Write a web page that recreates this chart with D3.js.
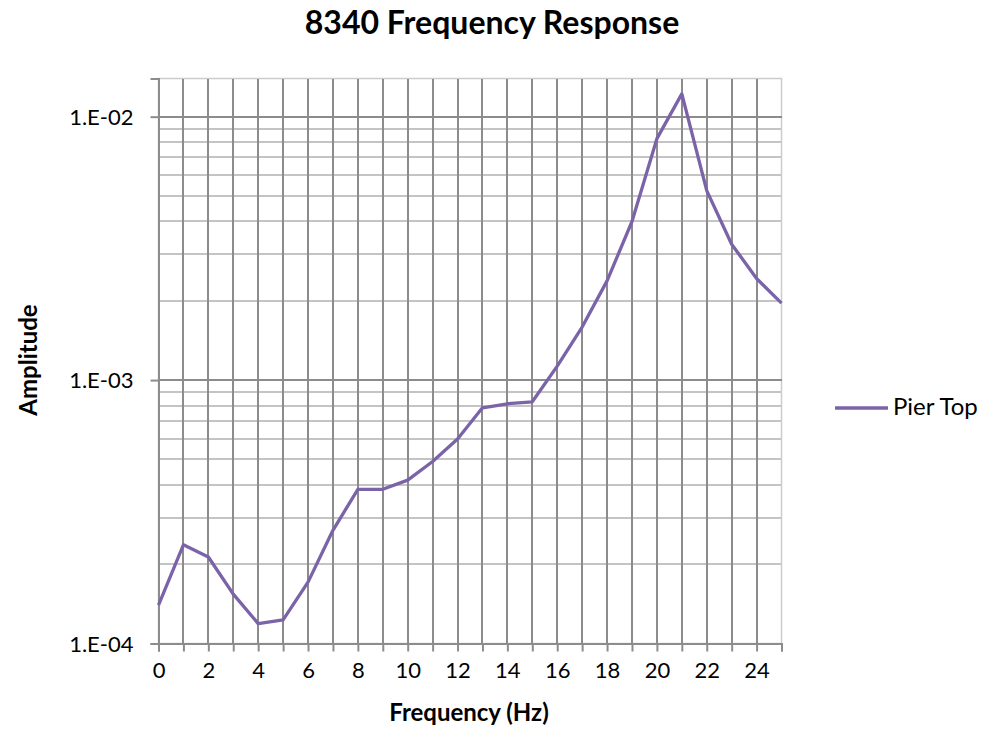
<!DOCTYPE html>
<meta charset="utf-8">
<style>
body { margin: 0; background: #fff; font-family: Lato, "Liberation Sans", sans-serif; }
.grid line { shape-rendering: crispEdges; }
</style>
<body>
<svg width="995" height="735"></svg>
<script src="https://d3js.org/d3.v7.min.js"></script>
<script>

// data
var freqs = [0, 1, 2, 3, 4, 5, 6, 7, 8, 9, 10, 11, 12, 13, 14, 15, 16, 17, 18, 19, 20, 21, 22, 23, 24, 25];
var pierTop = [1.40e-4, 2.37e-4, 2.13e-4, 1.54e-4, 1.19e-4, 1.23e-4, 1.71e-4, 2.69e-4, 3.85e-4, 3.85e-4,
               4.17e-4, 4.91e-4, 5.97e-4, 7.85e-4, 8.13e-4, 8.27e-4, 1.13e-3, 1.59e-3, 2.38e-3, 4.00e-3,
               8.25e-3, 1.22e-2, 5.24e-3, 3.28e-3, 2.43e-3, 1.96e-3];
var xTicks = [0, 2, 4, 6, 8, 10, 12, 14, 16, 18, 20, 22, 24];
var yTicks = [1e-4, 1e-3, 1e-2];

var svg = d3.select("svg"),
    margin = {top: 78.5, left: 158.5, right: 213.5, bottom: 91.5},
    width = 995 - margin.left - margin.right,
    height = 735 - margin.top - margin.bottom,
    g = svg.append("g").attr("transform", "translate(" + margin.left + "," + margin.top + ")");

var x = d3.scaleLinear().domain([0, 25]).range([0, width]);
var y = d3.scaleLog().domain([1e-4, 0.01396]).range([height, 0]);

// minor horizontal grid (2..9 of each decade)
var minor = [];
[1e-4, 1e-3, 1e-2].forEach(function(d) {
    for (var k = 2; k <= 9; k++) if (d * k < y.domain()[1]) minor.push(d * k);
});

g.append("g").attr("class", "grid").selectAll("line")
    .data(minor).enter().append("line")
    .attr("x1", 0).attr("x2", width)
    .attr("y1", function(d) { return y(d); }).attr("y2", function(d) { return y(d); })
    .attr("stroke", "#c4c4c4").attr("stroke-width", 2);

// top / right border
g.append("rect").attr("width", width).attr("height", height)
    .attr("fill", "none").attr("stroke", "#cccccc").attr("stroke-width", 1.5);

// vertical grid every 1 Hz
g.append("g").attr("class", "grid").selectAll("line")
    .data(d3.range(1, 25)).enter().append("line")
    .attr("x1", function(d) { return x(d); }).attr("x2", function(d) { return x(d); })
    .attr("y1", 0).attr("y2", height)
    .attr("stroke", "#8c8c8c").attr("stroke-width", 2);

// decade lines
g.append("g").attr("class", "grid").selectAll("line")
    .data([1e-3, 1e-2]).enter().append("line")
    .attr("x1", 0).attr("x2", width)
    .attr("y1", function(d) { return y(d); }).attr("y2", function(d) { return y(d); })
    .attr("stroke", "#8c8c8c").attr("stroke-width", 2);

// axes
var xAxis = g.append("g")
    .attr("transform", "translate(0," + height + ")")
    .call(d3.axisBottom(x).tickValues(d3.range(0, 26)).tickSize(8).tickPadding(11)
        .tickFormat(function(d) { return xTicks.indexOf(d) >= 0 ? d : ""; }));

var yAxis = g.append("g")
    .call(d3.axisLeft(y).tickValues(yTicks).tickSize(8).tickPadding(17)
        .tickFormat(function(d) { return "1.E-0" + Math.round(-Math.log10(d)); }));

[xAxis, yAxis].forEach(function(a) {
    a.select(".domain").attr("stroke", "#8c8c8c").attr("stroke-width", 2);
    a.selectAll(".tick line").attr("stroke", "#8c8c8c").attr("stroke-width", 2);
    a.selectAll("text").attr("fill", "#000").style("font-size", "22px")
        .style("font-family", "Lato, 'Liberation Sans', sans-serif");
});
yAxis.selectAll("text").attr("dy", "0.35em");

var line = d3.line()
    .x(function(d, i) { return x(freqs[i]); })
    .y(function(d) { return y(d); });

g.append("path")
    .datum(pierTop)
    .attr("fill", "none")
    .attr("stroke", "#7b63a8")
    .attr("stroke-width", 3.3)
    .attr("stroke-linejoin", "round")
    .attr("d", line);

// titles
svg.append("text").attr("x", 492).attr("y", 34).attr("text-anchor", "middle")
    .style("font-size", "32px").style("font-weight", "bold").text("8340 Frequency Response");

svg.append("text").attr("x", 469).attr("y", 721).attr("text-anchor", "middle")
    .style("font-size", "24px").style("font-weight", "bold").text("Frequency (Hz)");

svg.append("text").attr("transform", "translate(37,360) rotate(-90)").attr("text-anchor", "middle")
    .style("font-size", "24px").style("font-weight", "bold").text("Amplitude");

// legend
var leg = svg.append("g").attr("transform", "translate(835,408)");
leg.append("line").attr("x1", 0).attr("x2", 53).attr("stroke", "#7b63a8").attr("stroke-width", 3.3);
leg.append("text").attr("x", 58).attr("y", 7).style("font-size", "24px").text("Pier Top");

</script>
